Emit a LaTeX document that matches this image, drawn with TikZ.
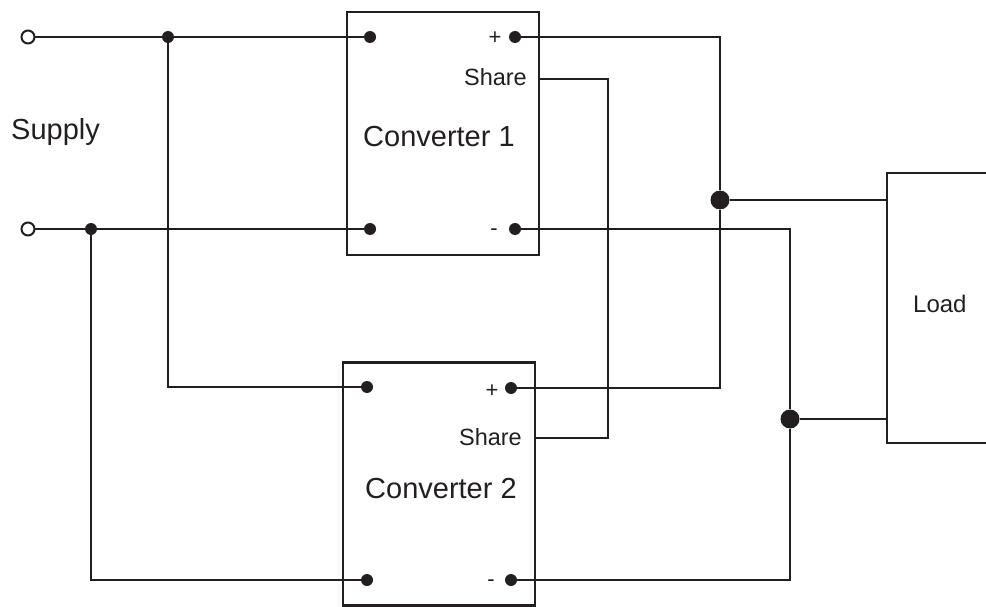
\documentclass[tikz,border=0pt]{standalone}
\usepackage{fontspec}
\setmainfont{Liberation Sans}
\definecolor{ink}{HTML}{231F20}
\tikzset{
	wire/.style={draw=ink,line width=2.3pt},
	unitbox/.style={draw=ink,line width=2.3pt,rectangle,inner sep=0pt},
	pin/.style={circle,fill=ink,inner sep=0pt,minimum size=12pt},
	joint/.style={circle,fill=ink,inner sep=0pt,minimum size=19pt},
	term/.style={circle,draw=ink,fill=white,line width=2pt,inner sep=0pt,minimum size=13pt},
	tag/.style={text=ink,inner sep=0pt}
}
\begin{document}
\begin{tikzpicture}[x=1pt,y=-1pt]
				\useasboundingbox (0,0) rectangle (986,607);
				% converters and load
				\node[unitbox,minimum width=192pt,minimum height=243pt] (conv1) at (443,133.5) {};
				\node[unitbox,minimum width=192pt,minimum height=243pt] (conv2) at (439,484) {};
				\draw[wire] (990,173) -- (887,173) -- (887,443) -- (990,443);
				\coordinate (loadp) at (887,200);
				\coordinate (loadn) at (887,419);
				% pins
				\node[pin] (c1a) at (370,37) {};
				\node[pin] (c1b) at (370,229) {};
				\node[pin] (c1p) at (515,37) {};
				\node[pin] (c1n) at (515,229) {};
				\node[pin] (c2a) at (367,387) {};
				\node[pin] (c2b) at (367,580) {};
				\node[pin] (c2p) at (511,388) {};
				\node[pin] (c2n) at (511,580) {};
				\node[pin] (ja) at (168,37) {};
				\node[pin] (jb) at (91,229) {};
				\node[joint] (jp) at (720,200) {};
				\node[joint] (jn) at (790,419) {};
				\coordinate (sh1) at (539,79);
				\coordinate (sh2) at (535,438);
				\coordinate (shx) at (608,79);
				% supply side
				\draw[wire] (28,37) -- (c1a);
				\draw[wire] (28,229) -- (c1b);
				\draw[wire] (ja) |- (c2a);
				\draw[wire] (jb) |- (c2b);
				\node[term] (ina) at (28,37) {};
				\node[term] (inb) at (28,229) {};
				% outputs
				\draw[wire] (c1p) -| (jp) |- (c2p);
				\draw[wire] (c1n) -| (jn) |- (c2n);
				\draw[wire] (jp) -- (loadp);
				\draw[wire] (jn) -- (loadn);
				\draw[wire] (sh1) -- (shx) |- (sh2);
				% texts
				\node[tag,anchor=base west,font=\fontsize{29}{34}\selectfont] (supply) at (11,140) {Supply};
				\node[tag,anchor=base west,font=\fontsize{29}{34}\selectfont] (name1) at (363,147) {Converter 1};
				\node[tag,anchor=base west,font=\fontsize{29}{34}\selectfont] (name2) at (365,498) {Converter 2};
				\node[tag,anchor=base east,font=\fontsize{23.5}{28}\selectfont] (share1) at (527,86) {Share};
				\node[tag,anchor=base east,font=\fontsize{23.5}{28}\selectfont] (share2) at (522,445) {Share};
				\node[tag,anchor=base west,font=\fontsize{24}{28}\selectfont] (load) at (913,312) {Load};
				\node[tag,anchor=base,font=\fontsize{22}{26}\selectfont] (plus1) at (495,45) {+};
				\node[tag,anchor=base,font=\fontsize{22}{26}\selectfont] (plus2) at (492,397) {+};
				\node[tag,anchor=base,font=\fontsize{22}{26}\selectfont] (minus1) at (494,235) {-};
				\node[tag,anchor=base,font=\fontsize{22}{26}\selectfont] (minus2) at (491,586) {-};
			\end{tikzpicture}
\end{document}
